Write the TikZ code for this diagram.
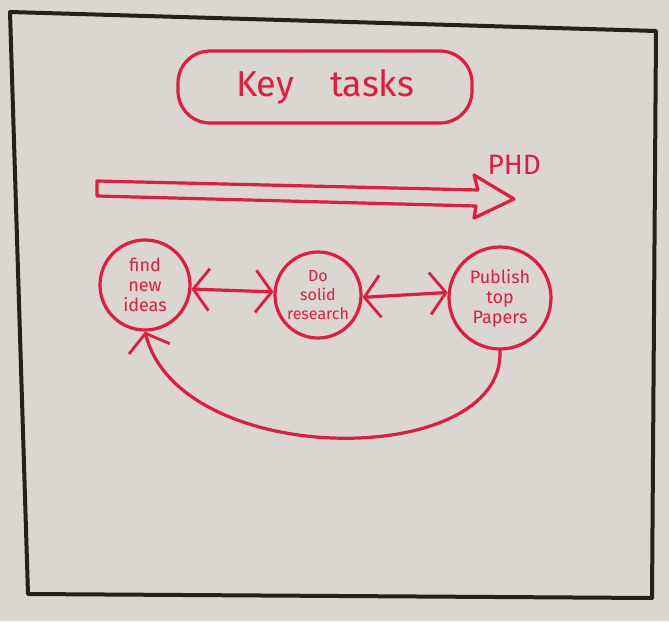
\documentclass[tikz,border=0pt]{standalone}
\usepackage{fontspec}
\setmainfont{Fira Sans}
\usetikzlibrary{arrows.meta,shapes.geometric}
\definecolor{paper}{RGB}{218,214,208}
\definecolor{marker}{RGB}{226,28,62}
\definecolor{ink}{RGB}{38,32,28}
\tikzset{
  redline/.style={draw=marker,line width=3.2pt,line cap=round,line join=round},
  taskcircle/.style={circle,redline,inner sep=0pt,text=marker,font=\fontsize{18}{20}\selectfont,align=center},
  connector/.style={redline,>={Straight Barb[length=16pt,width=42pt,line width=2.8pt]}},
}
\begin{document}
\begin{tikzpicture}[x=1pt,y=-1pt]
\useasboundingbox (0,0) rectangle (669,621);
\fill[paper] (0,0) rectangle (669,621);
% frame
\draw[ink,line width=4pt,line join=round] (10,12) -- (656,31) -- (652,598) -- (28,594) -- cycle;
% title
\node[redline,rounded corners=32pt,minimum width=294pt,minimum height=72pt,text=marker,font=\fontsize{36}{36}\selectfont] (title) at (325,87) {Key\quad tasks};
% big arrow
\draw[redline] (97,181) -- (478,190) -- (474,175) -- (514,199) -- (474,218) -- (476,206) -- (97,196) -- cycle;
\node[text=marker,font=\fontsize{28}{28}\selectfont,anchor=west] (phd) at (484,165) {PHD};
% circles
\node[taskcircle,minimum size=90pt] (find) at (145,285) {find\\new\\ideas};
\node[taskcircle,minimum size=86pt,font=\fontsize{16}{19}\selectfont] (solid) at (318,295) {Do\\solid\\research};
\node[taskcircle,minimum size=102pt] (publish) at (500,298) {Publish\\top\\Papers};
% connectors
\draw[connector,<->] (find.-5) -- (solid.176);
\draw[connector,<->] (solid.-3) -- (publish.174);
\draw[connector,->] (publish.south) .. controls (505,470) and (180,470) .. (find.south);
\end{tikzpicture}
\end{document}
